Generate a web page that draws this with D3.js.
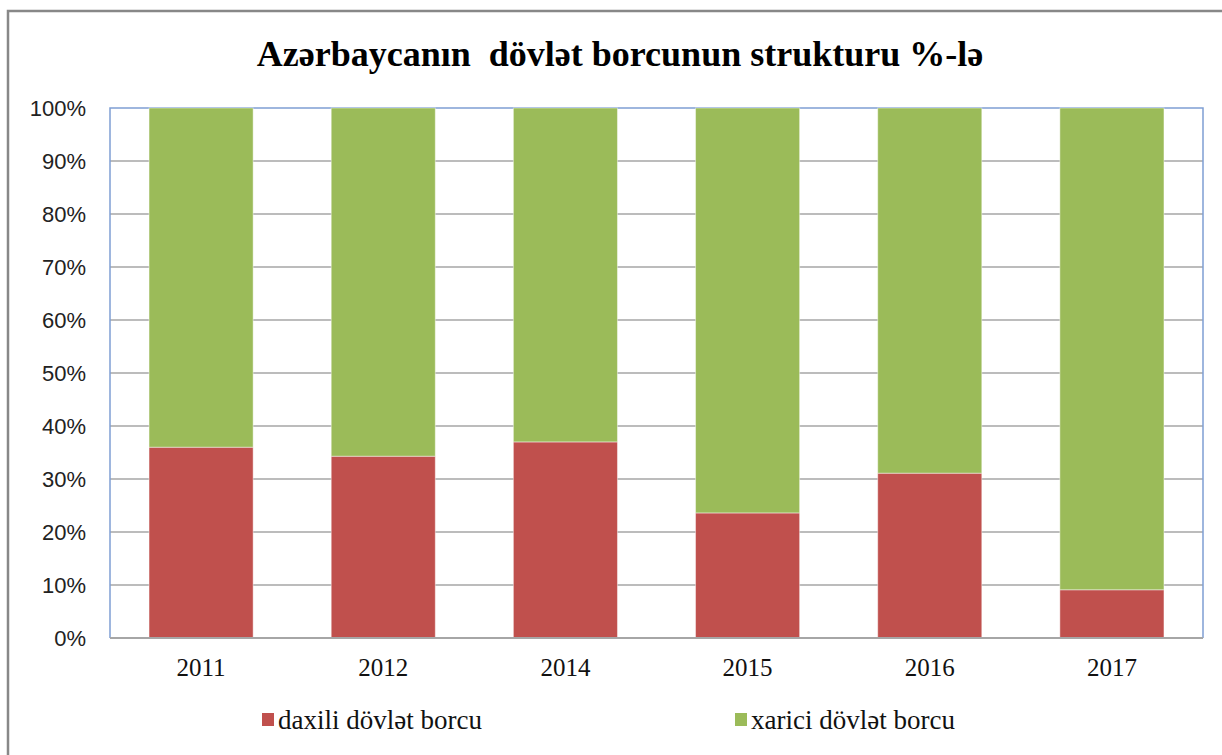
<!DOCTYPE html>
<html><head><meta charset="utf-8">
<script src="https://cdn.jsdelivr.net/npm/d3@7"></script>
<style>html,body{margin:0;padding:0;background:#fff;}svg{display:block;}</style>
</head><body>
<svg id="chart" width="1222" height="755"></svg>
<script>
const years = ["2011", "2012", "2014", "2015", "2016", "2017"];
const daxili = [36.0, 34.3, 37.0, 23.6, 31.1, 9.1];
const xarici = [64.0, 65.7, 63.0, 76.4, 68.9, 90.9];
const seriesNames = ["daxili dövlət borcu", "xarici dövlət borcu"];
const seriesColors = ["#c0504d", "#9bbb59"];
const yTicks = [0, 10, 20, 30, 40, 50, 60, 70, 80, 90, 100];
const title = "Azərbaycanın  dövlət borcunun strukturu %-lə";

const SERIF = "'Liberation Serif', 'Times New Roman', serif";
const SANS = "'Liberation Sans', Arial, sans-serif";

const svg = d3.select("#chart");
const L = 110, R = 1203, T = 108, B = 638;

// outer chart border
svg.append("rect").attr("x", 8).attr("y", 11).attr("width", 1300).attr("height", 900)
  .attr("fill", "#fff").attr("stroke", "#888").attr("stroke-width", 2.5);

const x = d3.scaleBand().domain(years).range([L, R]).paddingInner(0.75/1.75).paddingOuter(0.75/3.5);
const y = d3.scaleLinear().domain([0, 100]).range([B, T]);

// gridlines
svg.append("g").selectAll("line").data(yTicks.filter(d => d > 0 && d < 100)).join("line")
  .attr("x1", L).attr("x2", R).attr("y1", d => y(d)).attr("y2", d => y(d))
  .attr("stroke", "#a6a6a6").attr("stroke-width", 1.6);

// plot border (blue) top/left/right
svg.append("path").attr("d", `M${L},${B}V${T}H${R}V${B}`)
  .attr("fill", "none").attr("stroke", "#7f9fd4").attr("stroke-width", 1.5);

// stacked bars
const rows = years.map((yr, i) => ({year: yr, daxili: daxili[i], xarici: xarici[i]}));
const stack = d3.stack().keys(["daxili", "xarici"])(rows);
svg.append("g").selectAll("g").data(stack).join("g")
  .attr("fill", (d, i) => seriesColors[i])
  .selectAll("rect").data(d => d).join("rect")
  .attr("x", d => x(d.data.year)).attr("width", x.bandwidth())
  .attr("y", d => y(d[1])).attr("height", d => y(d[0]) - y(d[1]))
  .attr("stroke", "rgba(255,255,255,0.45)").attr("stroke-width", 1);

// bottom axis line (gray)
svg.append("line").attr("x1", L).attr("x2", R).attr("y1", B).attr("y2", B)
  .attr("stroke", "#a6a6a6").attr("stroke-width", 2);

// y axis labels
const yAxis = d3.axisLeft(y).tickValues(yTicks).tickFormat(d => d + "%").tickSize(0).tickPadding(24);
const ya = svg.append("g").attr("transform", `translate(${L},0)`).call(yAxis);
ya.select(".domain").remove();
ya.selectAll("text").style("font-family", SANS)
  .style("font-size", "22px").attr("fill", "#222").attr("dy", "0.36em");

// x axis labels
const xAxis = d3.axisBottom(x).tickSize(0).tickPadding(20);
const xa = svg.append("g").attr("transform", `translate(0,${B})`).call(xAxis);
xa.select(".domain").remove();
xa.selectAll("text").style("font-family", SERIF)
  .style("font-size", "25px").attr("fill", "#111");

// title
svg.append("text").attr("x", 620).attr("y", 66).attr("text-anchor", "middle")
  .style("font-family", SERIF).style("font-weight", "bold")
  .style("font-size", "36px").attr("fill", "#000").style("white-space", "pre").text(title);

// legend
const legX = [262, 735];
const leg = svg.append("g").selectAll("g").data(seriesNames).join("g")
  .attr("transform", (d, i) => `translate(${legX[i]},720)`);
leg.append("rect").attr("x", 0).attr("y", -7).attr("width", 12).attr("height", 13)
  .attr("fill", (d, i) => seriesColors[i]);
leg.append("text").attr("x", 16).attr("y", 9).text(d => d)
  .style("font-family", SERIF).style("font-size", "27px").attr("fill", "#111");
</script>
</body></html>
